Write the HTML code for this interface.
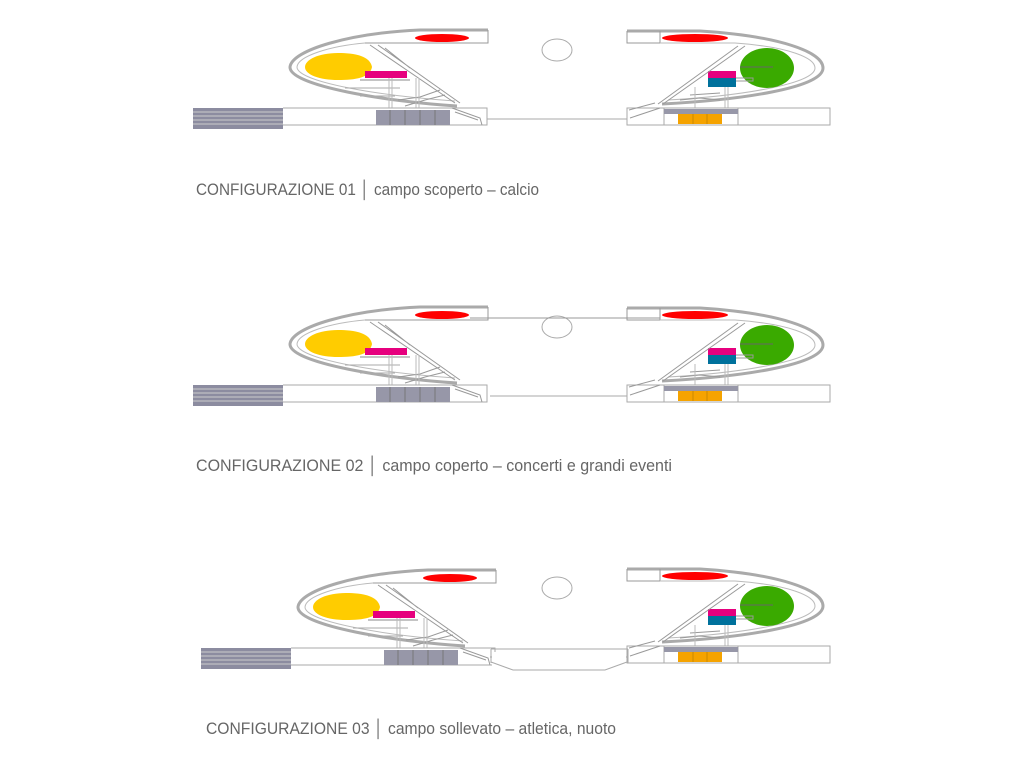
<!DOCTYPE html>
<html><head><meta charset="utf-8"><style>
html,body{margin:0;padding:0;background:#fff;}
svg{display:block;}
text{font-family:"Liberation Sans Narrow","Liberation Sans",sans-serif;fill:#666;font-size:17px;}
</style></head><body>
<svg width="1024" height="768" viewBox="0 0 1024 768" xmlns="http://www.w3.org/2000/svg">
<defs>
<g id="L">
  <path d="M488,30 L420,30 C350,33 292,50 290,67 C289,86 390,102 457,106" fill="none" stroke="#aaa" stroke-width="3"/>
  <path d="M488,30 L488,43 L365,43" fill="none" stroke="#999" stroke-width="1"/>
  <path d="M365,43 C330,46 298,56 297,67 C297,82 380,96 455,101" fill="none" stroke="#bbb" stroke-width="1"/>
  <ellipse cx="442" cy="38" rx="27" ry="4" fill="#f00"/>
  <path d="M372,67 C370,56 355,53 338,53 C318,53 305,60 305,67 C305,75 320,80 338,80 C355,80 370,78 372,67 Z" fill="#fc0"/>
  <rect x="365" y="71" width="42" height="7" fill="#e6007e"/>
  <line x1="360" y1="80" x2="410" y2="80" stroke="#888"/>
  <line x1="345" y1="88" x2="400" y2="88" stroke="#aaa"/>
  <line x1="360" y1="96" x2="395" y2="96" stroke="#aaa"/>
  <path d="M370,45 L455,103 M378,45 L460,103 M385,48 L410,68" stroke="#999" fill="none"/>
  <path d="M398,100 L420,97 L440,90 M405,106 L425,100 L445,95" stroke="#999" fill="none"/>
  <path d="M389,78 V108 M392,78 V108 M416,78 V108 M419,78 V108" stroke="#bbb"/>
  <rect x="193" y="108" width="90" height="21" fill="#8c8ca0"/>
  <path d="M193,112 H283 M193,116 H283 M193,120 H283 M193,124 H283" stroke="#ccc"/>
  <path d="M283,108 H487 V125 H283" fill="none" stroke="#aaa"/>
  <rect x="376" y="110" width="74" height="15" fill="#9797a8"/>
  <path d="M390,110 V125 M405,110 V125 M420,110 V125 M435,110 V125" stroke="#777"/>
  <path d="M452,108 L480,118 L482,125 M455,112 L478,120" stroke="#999" fill="none"/>
</g>
<g id="R">
  <ellipse cx="557" cy="50" rx="15" ry="11" fill="none" stroke="#aaa"/>
  <path d="M627,31 L700,31 C780,36 823,52 823,68 C823,88 740,100 662,104" fill="none" stroke="#aaa" stroke-width="3"/>
  <path d="M627,31 V43 H660 M660,31 V43" fill="none" stroke="#999"/>
  <path d="M660,43 L735,43 C790,47 815,58 815,68 C815,84 740,96 668,100" fill="none" stroke="#bbb"/>
  <ellipse cx="695" cy="38" rx="33" ry="4" fill="#f00"/>
  <ellipse cx="767" cy="68" rx="27" ry="20" fill="#3aaa00"/>
  <line x1="740" y1="67" x2="773" y2="67" stroke="#666"/>
  <rect x="708" y="71" width="28" height="7" fill="#e6007e"/>
  <rect x="708" y="78" width="28" height="9" fill="#00719c"/>
  <path d="M736,78 H753 V81 H736" fill="none" stroke="#999"/>
  <path d="M745,46 L663,104 M738,46 L658,104" stroke="#999" fill="none"/>
  <path d="M690,95 L720,93 M680,100 L700,98 L720,100" stroke="#999" fill="none"/>
  <path d="M695,87 V108 M725,87 V108 M728,87 V108" stroke="#bbb"/>
  <path d="M490,119 H627 V108 H830 V125 H627 V119" fill="none" stroke="#aaa"/>
  <path d="M629,110 L655,103 M630,118 L660,108" stroke="#999" fill="none"/>
  <path d="M664,108 V125 M738,108 V125" stroke="#aaa"/>
  <rect x="664" y="109" width="74" height="5" fill="#9797a8"/>
  <rect x="678" y="114" width="44" height="10" fill="#f5a300"/>
  <path d="M693,114 V124 M707,114 V124" stroke="#c80"/>
</g>
</defs>

<use href="#L"/>
<use href="#R"/>
<path d="M487,119 H490" stroke="#aaa"/>
<text x="196" y="195" textLength="343" lengthAdjust="spacingAndGlyphs">CONFIGURAZIONE 01 │ campo scoperto – calcio</text>

<g transform="translate(0,277)">
  <use href="#L"/>
  <use href="#R"/>
  <path d="M470,41 H660" stroke="#999"/>
</g>
<text x="196" y="471" textLength="476" lengthAdjust="spacingAndGlyphs">CONFIGURAZIONE 02 │ campo coperto – concerti e grandi eventi</text>

<g transform="translate(8,540)"><use href="#L"/></g>
<g transform="translate(0,538)"><use href="#R"/></g>
<rect x="492" y="652" width="134" height="14" fill="#fff"/>
<path d="M491,649 H628 M491,649 V663 M628,649 V663 M491,662 L513,670 H605 L627,662" fill="none" stroke="#aaa"/>
<text x="206" y="734" textLength="410" lengthAdjust="spacingAndGlyphs">CONFIGURAZIONE 03 │ campo sollevato – atletica, nuoto</text>
</svg>
</body></html>
